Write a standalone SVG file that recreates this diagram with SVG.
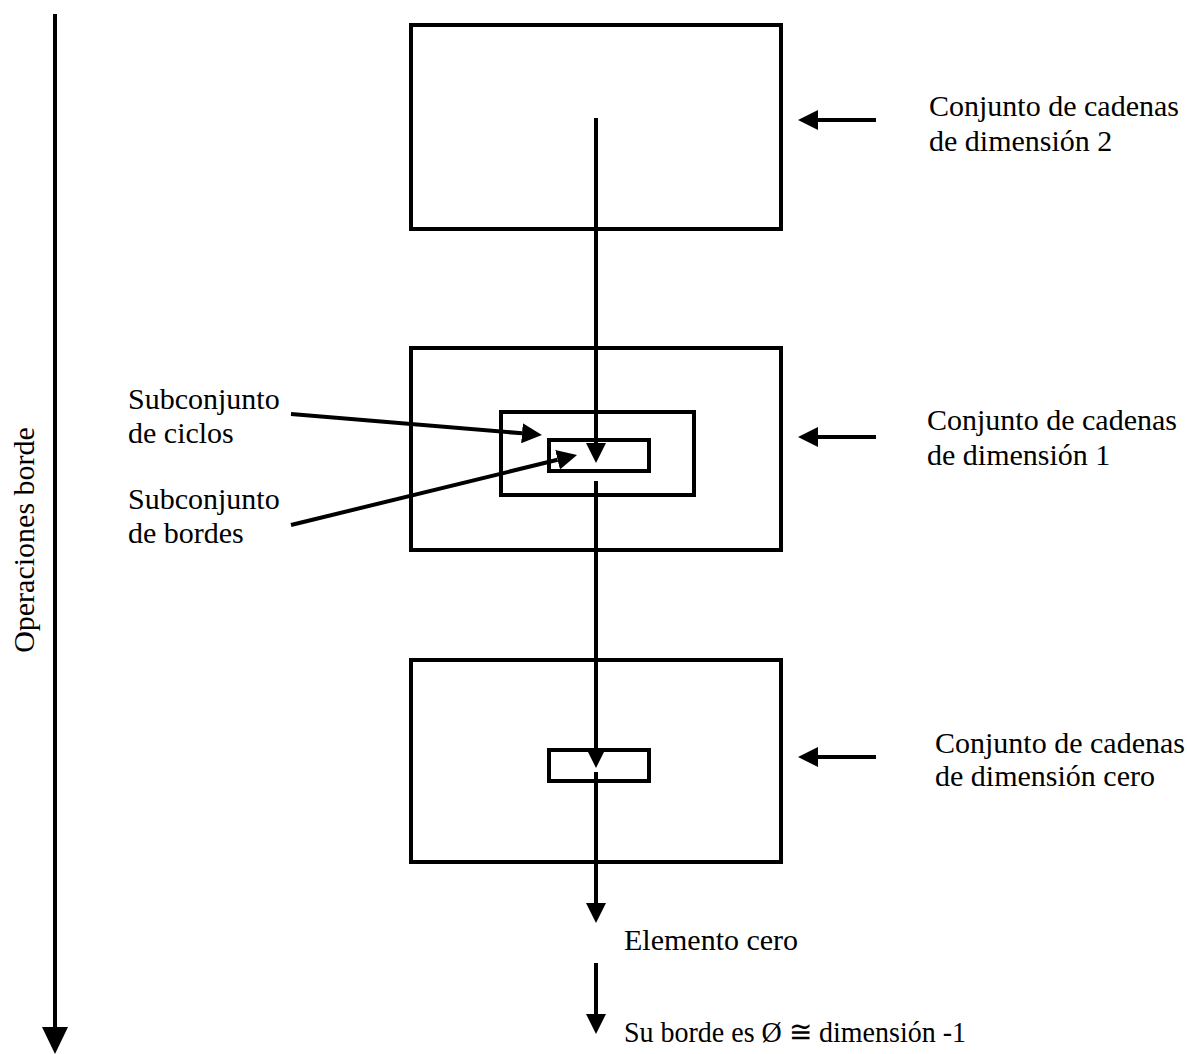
<svg xmlns="http://www.w3.org/2000/svg" width="1187" height="1054" viewBox="0 0 1187 1054">
<style>
.box{fill:none;stroke:#000;stroke-width:4}
.ln{fill:none;stroke:#000;stroke-width:4}
.t{font-family:"Liberation Serif","Times New Roman",serif;font-size:30px;fill:#000}
</style>
<defs>
<marker id="ah" markerUnits="userSpaceOnUse" markerWidth="20" markerHeight="20" refX="0" refY="10" orient="auto">
<path d="M0,0 L20,10 L0,20 z" fill="#000"/>
</marker>
<marker id="bh" markerUnits="userSpaceOnUse" markerWidth="27" markerHeight="26" refX="0" refY="13" orient="auto">
<path d="M0,0 L27,13 L0,26 z" fill="#000"/>
</marker>
</defs>
<rect width="1187" height="1054" fill="#fff"/>
<g id="axis">
<line class="ln" x1="55" y1="14" x2="55" y2="1027" marker-end="url(#bh)"/>
<text class="t" transform="translate(34,540) rotate(-90)" text-anchor="middle">Operaciones borde</text>
</g>
<g id="box-dim2">
<rect class="box" x="411" y="25" width="370" height="204"/>
<text class="t" x="929" y="116">Conjunto de cadenas</text>
<text class="t" x="929" y="151">de dimensión 2</text>
</g>
<g id="box-dim1">
<rect class="box" x="411" y="348" width="370" height="202"/>
<text class="t" x="927" y="430">Conjunto de cadenas</text>
<text class="t" x="927" y="465">de dimensión 1</text>
</g>
<g id="ciclos">
<rect class="box" x="501" y="412" width="193" height="83"/>
<text class="t" x="128" y="409">Subconjunto</text>
<text class="t" x="128" y="443">de ciclos</text>
</g>
<g id="bordes">
<rect class="box" x="549" y="440" width="100" height="31"/>
<text class="t" x="128" y="509">Subconjunto</text>
<text class="t" x="128" y="543">de bordes</text>
</g>
<g id="box-dim0">
<rect class="box" x="411" y="660" width="370" height="202"/>
<text class="t" x="935" y="753">Conjunto de cadenas</text>
<text class="t" x="935" y="786">de dimensión cero</text>
</g>
<g id="bordes0">
<rect class="box" x="549" y="750" width="100" height="31"/>
</g>
<g id="zero">
<text class="t" x="624" y="950">Elemento cero</text>
</g>
<g id="empty">
<text class="t" x="624" y="1042" textLength="342" lengthAdjust="spacingAndGlyphs">Su borde es Ø ≅ dimensión -1</text>
</g>
<g id="connectors">
<line class="ln" x1="596" y1="118" x2="596" y2="443" marker-end="url(#ah)"/>
<line class="ln" x1="596" y1="481" x2="596" y2="748" marker-end="url(#ah)"/>
<line class="ln" x1="596" y1="772" x2="596" y2="903" marker-end="url(#ah)"/>
<line class="ln" x1="596" y1="963" x2="596" y2="1014" marker-end="url(#ah)"/>
<line class="ln" x1="876" y1="120" x2="818" y2="120" marker-end="url(#ah)"/>
<line class="ln" x1="876" y1="437" x2="818" y2="437" marker-end="url(#ah)"/>
<line class="ln" x1="876" y1="757" x2="818" y2="757" marker-end="url(#ah)"/>
<line class="ln" x1="291" y1="414" x2="522" y2="433.3" marker-end="url(#ah)"/>
<line class="ln" x1="291" y1="525" x2="557.6" y2="459.8" marker-end="url(#ah)"/>
</g>
</svg>
